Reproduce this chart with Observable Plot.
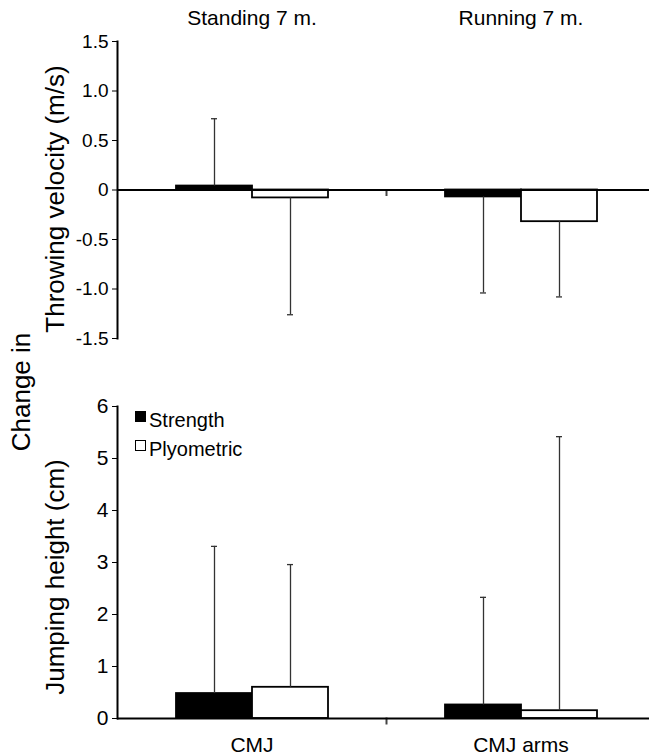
<!DOCTYPE html>
<html><head><meta charset="utf-8">
<script src="https://cdn.jsdelivr.net/npm/d3@7"></script>
<script src="https://cdn.jsdelivr.net/npm/@observablehq/plot@0.6"></script>
<style>
html,body{margin:0;padding:0;background:#fff;overflow:hidden;}
#wrap{position:relative;width:649px;height:756px;overflow:hidden;font-family:"Liberation Sans",Arial,sans-serif;color:#000;}
#top,#bottom{position:absolute;left:0;}
#top{top:0;} #bottom{top:345px;}
#wrap g[aria-label="frame"]{stroke-width:2px;}
.rot{position:absolute;transform:translate(-50%,-50%) rotate(-90deg);white-space:nowrap;font-size:26px;line-height:1;}
.leg{position:absolute;left:135px;font-size:20px;line-height:1;display:flex;align-items:center;}
.sw{display:inline-block;width:9px;height:9px;border:1.5px solid #000;margin-right:3px;margin-top:-8px;}
</style></head><body><div id="wrap">
<div id="top"></div><div id="bottom"></div>
<div class="rot" style="left:21px;top:392px;">Change in</div>
<div class="rot" style="left:55px;top:199px;">Throwing velocity (m/s)</div>
<div class="rot" style="left:55px;top:577px;">Jumping height (cm)</div>
<div id="legend"></div>
</div>
<script>
const throwTests = ["Standing 7 m.", "Running 7 m."];
const jumpTests = ["CMJ", "CMJ arms"];
const groups = ["Strength", "Plyometric"];
const groupColors = ["#000000", "#ffffff"];
const throwStrengthMean = [0.04, -0.07];
const throwStrengthSD = [0.68, 0.97];
const throwPlyoMean = [-0.08, -0.32];
const throwPlyoSD = [1.18, 0.76];
const jumpStrengthMean = [0.48, 0.26];
const jumpStrengthSD = [2.83, 2.07];
const jumpPlyoMean = [0.60, 0.15];
const jumpPlyoSD = [2.36, 5.27];
const throwTicks = [-1.5, -1, -0.5, 0, 0.5, 1, 1.5];
const jumpTicks = [0, 1, 2, 3, 4, 5, 6];

function rowsFor(tests, sMean, sSD, pMean, pSD) {
  const rows = [];
  tests.forEach((t, i) => {
    [[groups[0], sMean[i], sSD[i]], [groups[1], pMean[i], pSD[i]]].forEach(([g, m, sd]) => {
      const sign = m < 0 ? -1 : 1;
      rows.push({test: t, group: g, mean: m, end: m + sign * sd});
    });
  });
  return rows;
}
const font = '"Liberation Sans", Arial, sans-serif';

function panel({tests, rows, domain, ticks, fmt, height, mt, mb, labelTop, tickFont, labelDy}) {
  // pixel position of zero inside the frame, for the short separator tick between categories
  const y0 = mt + (domain[1] - 0) / (domain[1] - domain[0]) * (height - mt - mb);
  const tickLen = 5;
  return Plot.plot({
    width: 655, height,
    marginLeft: 116, marginRight: 0, marginTop: mt, marginBottom: mb,
    style: {fontFamily: font, fontSize: tickFont + "px", color: "#000", background: "transparent", maxWidth: "none", overflow: "visible"},
    fx: {domain: tests, padding: 0, axis: null},
    x: {domain: groups, paddingInner: 0, paddingOuter: 0.75, axis: null},
    y: {domain, ticks, tickFormat: fmt, tickSize: 5, tickPadding: 4, line: true, label: null},
    color: {domain: groups, range: groupColors},
    marks: [
      Plot.barY(rows, {fx: "test", x: "group", y: "mean", fill: "group", stroke: "#000", strokeWidth: 1.8}),
      Plot.ruleX(rows, {fx: "test", x: "group", y1: "mean", y2: "end", stroke: "#333", strokeWidth: 1.3}),
      Plot.tickY(rows, {fx: "test", x: "group", y: "end", stroke: "#333", strokeWidth: 1.3, insetLeft: 35, insetRight: 35}),
      Plot.frame({anchor: "left", facetAnchor: "right", stroke: "#444", strokeWidth: 2,
        insetTop: y0 - mt, insetBottom: (height - mb) - (y0 + tickLen)}),
      Plot.ruleY([0], {stroke: "#000", strokeWidth: 2}),
      Plot.text(tests, {fx: d => d, text: d => d, frameAnchor: labelTop ? "top" : "bottom", lineAnchor: "middle", dy: labelDy, fontSize: 21, fill: "#000"})
    ]
  });
}

const topChart = panel({
  tests: throwTests,
  rows: rowsFor(throwTests, throwStrengthMean, throwStrengthSD, throwPlyoMean, throwPlyoSD),
  domain: [-1.5, 1.5], ticks: throwTicks,
  fmt: d => d === 0 ? "0" : d.toFixed(1),
  height: 345, mt: 41, mb: 7, labelTop: true, tickFont: 19, labelDy: -23
});
document.getElementById("top").appendChild(topChart);

const bottomChart = panel({
  tests: jumpTests,
  rows: rowsFor(jumpTests, jumpStrengthMean, jumpStrengthSD, jumpPlyoMean, jumpPlyoSD),
  domain: [0, 6], ticks: jumpTicks,
  fmt: d => String(d),
  height: 411, mt: 61, mb: 38, labelTop: false, tickFont: 21, labelDy: 27
});
document.getElementById("bottom").appendChild(bottomChart);

const legend = document.getElementById("legend");
groups.forEach((g, i) => {
  const el = document.createElement("div");
  el.className = "leg";
  el.style.top = (410 + i * 29) + "px";
  el.innerHTML = `<span class="sw" style="background:${groupColors[i]}"></span>${g}`;
  legend.appendChild(el);
});
</script>
</body></html>
